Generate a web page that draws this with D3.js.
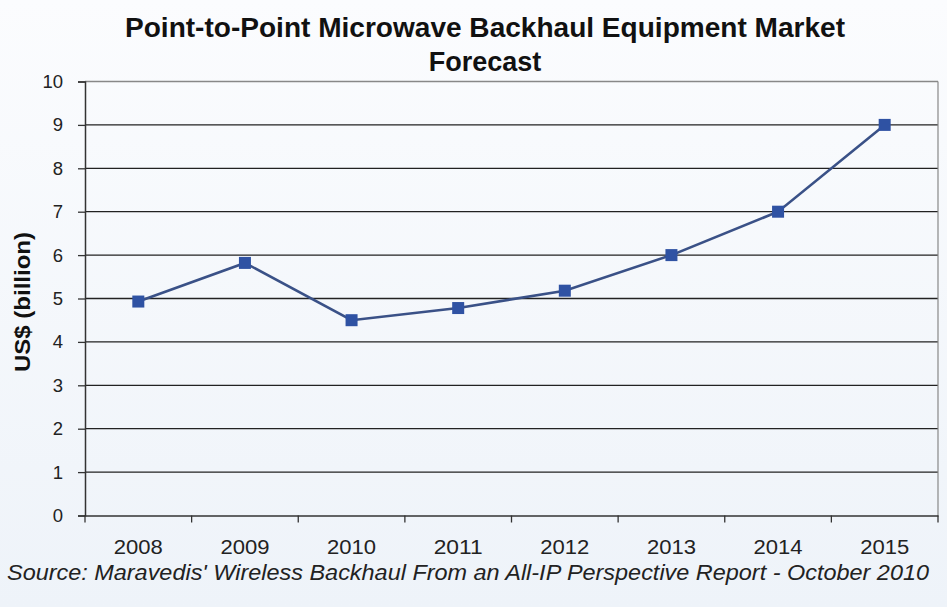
<!DOCTYPE html>
<html><head><meta charset="utf-8">
<script src="https://cdn.jsdelivr.net/npm/d3@7"></script>
<style>
html,body{margin:0;padding:0;background:#fff;}
svg{display:block;}
</style></head>
<body>
<script>
const years = ["2008","2009","2010","2011","2012","2013","2014","2015"];
const values = [4.93, 5.82, 4.5, 4.78, 5.18, 6.0, 7.0, 9.0];
const yTicks = [0,1,2,3,4,5,6,7,8,9,10];
const titleLines = ["Point-to-Point Microwave Backhaul Equipment Market", "Forecast"];
const yLabel = "US$ (billion)";
const sourceText = "Source: Maravedis' Wireless Backhaul From an All-IP Perspective Report - October 2010";

const W = 947, H = 607;
const m = {left:85, right:9, top:81.5, bottom:91.5};
const FONT = "Liberation Sans, Arial, sans-serif";
const svg = d3.select("body").append("svg").attr("width",W).attr("height",H);

const defs = svg.append("defs");
const g0 = defs.append("linearGradient").attr("id","bg").attr("x1",0).attr("y1",0).attr("x2",0).attr("y2",1);
g0.append("stop").attr("offset","0%").attr("stop-color","#fbfcfe");
g0.append("stop").attr("offset","100%").attr("stop-color","#eef3f9");
svg.append("rect").attr("width",W).attr("height",H).attr("fill","url(#bg)");

const x = d3.scaleBand().domain(years).range([m.left, W-m.right]).padding(0);
const y = d3.scaleLinear().domain([0,10]).range([H-m.bottom, m.top]);

// gridlines
svg.append("g").selectAll("line").data(yTicks.filter(d=>d>0)).join("line")
  .attr("x1",m.left).attr("x2",W-m.right)
  .attr("y1",d=>y(d)).attr("y2",d=>y(d))
  .attr("stroke",d=>d===10?"#888":"#222").attr("stroke-width",1.3);
// right border
svg.append("line").attr("x1",W-m.right).attr("x2",W-m.right)
  .attr("y1",m.top).attr("y2",H-m.bottom).attr("stroke","#888").attr("stroke-width",1.2);

// y axis
const yAxis = svg.append("g").attr("transform",`translate(${m.left},0)`)
  .call(d3.axisLeft(y).tickValues(yTicks).tickSize(7).tickPadding(15).tickFormat(d3.format("d")));
yAxis.select(".domain").attr("stroke","#333").attr("stroke-width",1.5);
yAxis.selectAll(".tick line").attr("stroke","#333").attr("stroke-width",1.3);
yAxis.selectAll("text").attr("font-family",FONT)
  .attr("font-size",18.5).attr("fill","#222");

// x axis
const xAxis = svg.append("g").attr("transform",`translate(0,${H-m.bottom})`)
  .call(d3.axisBottom(x).tickSize(0).tickPadding(24));
xAxis.select(".domain").attr("stroke","#333").attr("stroke-width",1.5);
xAxis.selectAll("text").attr("font-family",FONT)
  .attr("font-size",20).attr("fill","#222")
  .attr("textLength",49).attr("lengthAdjust","spacingAndGlyphs");
// boundary ticks between categories
const bounds = years.map(d=>x(d)).concat([x(years[years.length-1])+x.bandwidth()]);
svg.append("g").selectAll("line").data(bounds).join("line")
  .attr("x1",d=>d).attr("x2",d=>d)
  .attr("y1",H-m.bottom).attr("y2",H-m.bottom+7)
  .attr("stroke","#333").attr("stroke-width",1.3);

// line
const cx = d => x(d)+x.bandwidth()/2;
svg.append("path").datum(values)
  .attr("d", d3.line().x((d,i)=>cx(years[i])).y(d=>y(d)))
  .attr("fill","none").attr("stroke","#3a5187").attr("stroke-width",2.6);
svg.append("g").selectAll("rect").data(values).join("rect")
  .attr("x",(d,i)=>cx(years[i])-6).attr("y",d=>y(d)-6)
  .attr("width",12).attr("height",12).attr("fill","#2f52a3");

// title
svg.append("text").attr("x",485).attr("y",37)
  .attr("text-anchor","middle").attr("font-family",FONT)
  .attr("font-weight","bold").attr("font-size",27).attr("fill","#111")
  .attr("textLength",720).attr("lengthAdjust","spacingAndGlyphs")
  .text(titleLines[0]);
svg.append("text").attr("x",485).attr("y",71)
  .attr("text-anchor","middle").attr("font-family",FONT)
  .attr("font-weight","bold").attr("font-size",27).attr("fill","#111")
  .text(titleLines[1]);

// y label
svg.append("text").attr("transform",`translate(30,302) rotate(-90)`)
  .attr("text-anchor","middle").attr("font-family",FONT)
  .attr("font-weight","bold").attr("font-size",22).attr("fill","#111")
  .attr("textLength",140).attr("lengthAdjust","spacingAndGlyphs")
  .text(yLabel);

// source
svg.append("text").attr("x",468).attr("y",580)
  .attr("text-anchor","middle").attr("font-family",FONT)
  .attr("font-style","italic").attr("font-size",21.5).attr("fill","#222")
  .attr("textLength",922).attr("lengthAdjust","spacingAndGlyphs")
  .text(sourceText);
</script>
</body></html>
